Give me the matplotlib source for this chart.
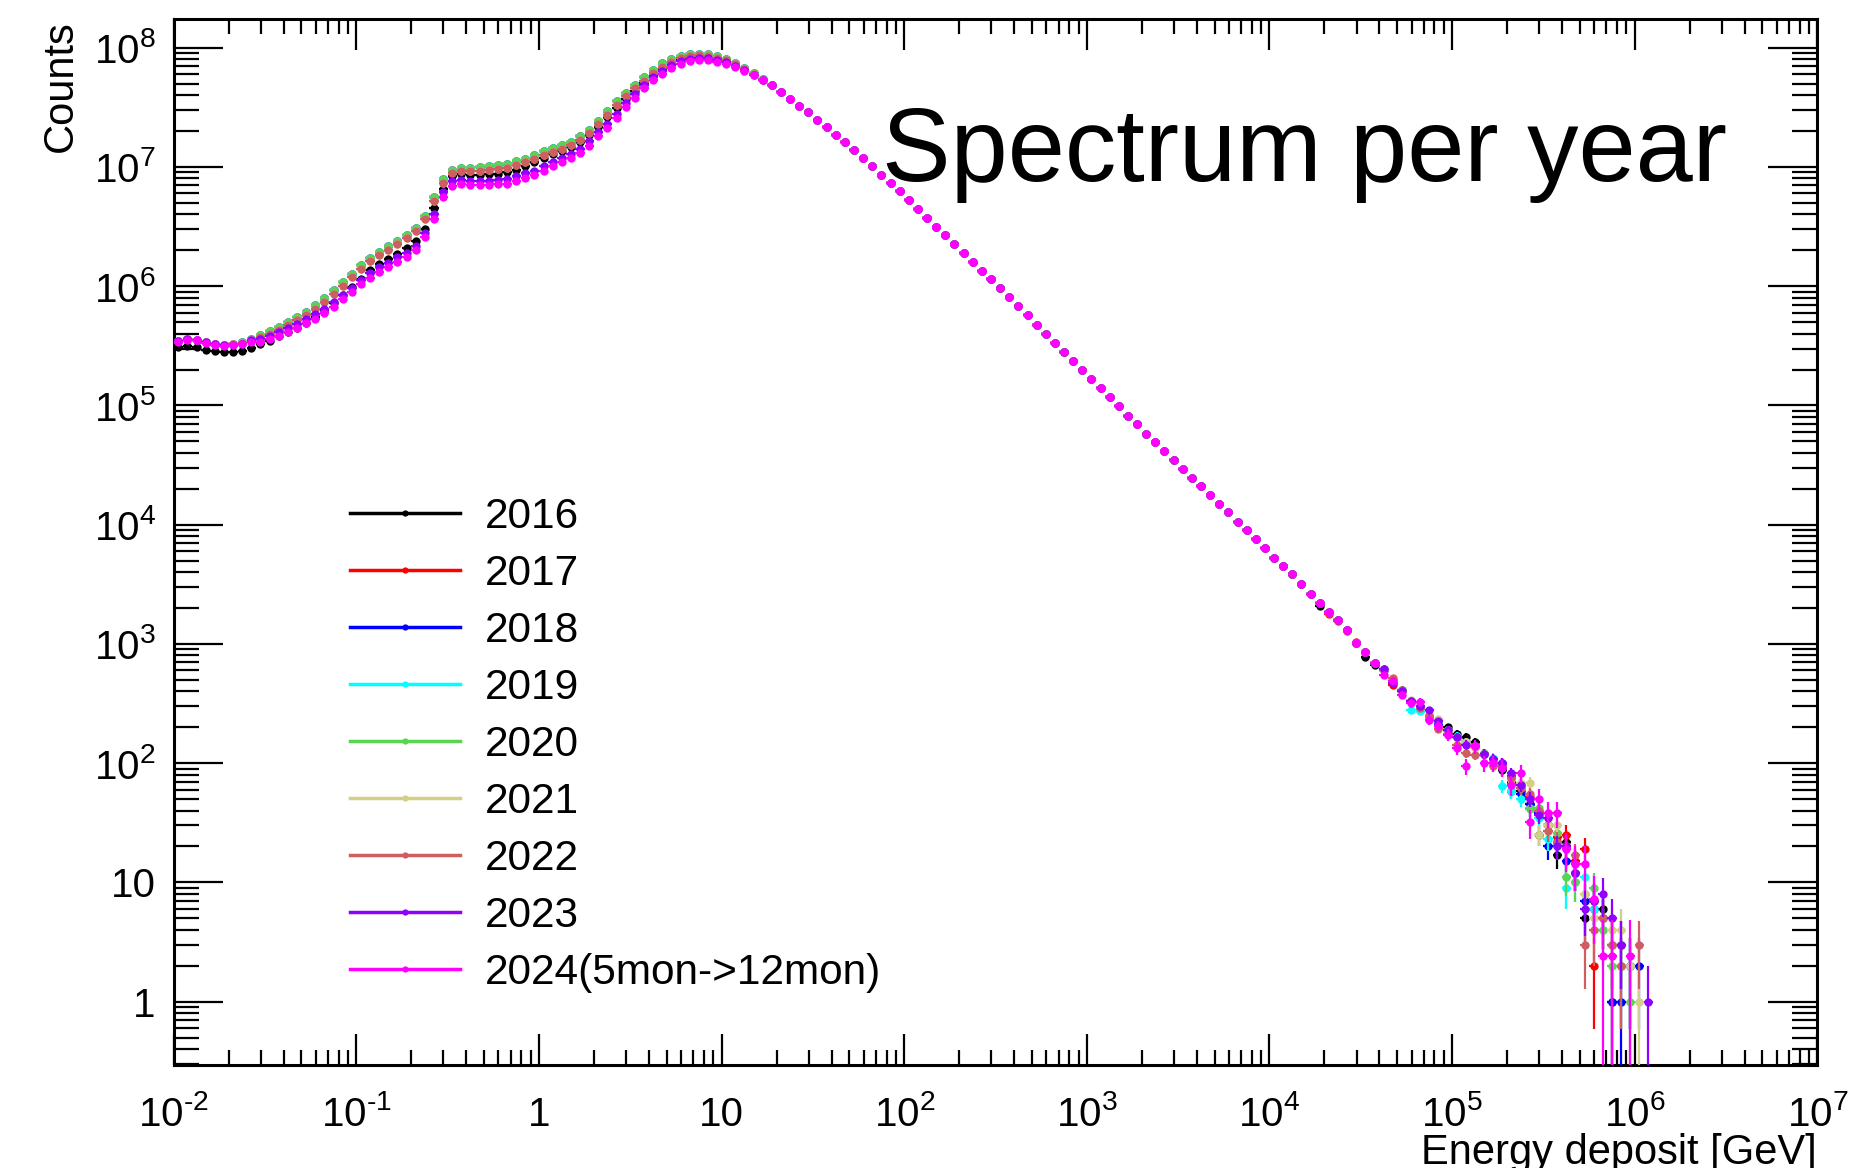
import matplotlib
matplotlib.use("Agg")
import matplotlib.pyplot as plt
import numpy as np
from matplotlib.lines import Line2D
from matplotlib.ticker import LogLocator, NullFormatter

plt.rcParams["font.family"] = ["Liberation Sans", "DejaVu Sans"]
plt.rcParams["mathtext.fontset"] = "custom"
plt.rcParams["mathtext.rm"] = "Liberation Sans"
plt.rcParams["mathtext.it"] = "Liberation Sans:italic"
plt.rcParams["mathtext.bf"] = "Liberation Sans:bold"

years = ["2016", "2017", "2018", "2019", "2020", "2021", "2022", "2023",
         "2024(5mon->12mon)"]
colors = ["#000000", "#ff0000", "#0000ff", "#00ffff", "#59d454", "#d4cf87",
          "#cf5e61", "#9000ff", "#ff00ff"]

# histogram binning: 20 bins per decade from 1e-2 GeV, 162 filled bins
bin_edges = np.logspace(-2, 7, 181)[:163]

# log10(counts), bins 0-64 (below the peak the years differ)
low_2016 = [5.486, 5.50, 5.492, 5.467, 5.456, 5.444, 5.45, 5.458, 5.481, 5.514,
            5.542, 5.578, 5.617, 5.653, 5.694, 5.744, 5.80, 5.861, 5.925, 5.992,
            6.061, 6.133, 6.189, 6.228, 6.272, 6.317, 6.383, 6.483, 6.653, 6.817,
            6.925, 6.939, 6.933, 6.933, 6.939, 6.944, 6.956, 6.978, 7.006, 7.039,
            7.072, 7.106, 7.133, 7.167, 7.208, 7.267, 7.339, 7.417, 7.494, 7.569,
            7.639, 7.70, 7.767, 7.82, 7.865, 7.897, 7.914, 7.922, 7.919, 7.905,
            7.886, 7.857, 7.818, 7.777, 7.73]
low_upper = [5.542, 5.556, 5.55, 5.528, 5.514, 5.506, 5.511, 5.533, 5.561, 5.589,
             5.625, 5.658, 5.70, 5.744, 5.783, 5.839, 5.90, 5.967, 6.033, 6.103,
             6.178, 6.239, 6.289, 6.333, 6.381, 6.431, 6.492, 6.592, 6.744, 6.897,
             6.978, 6.994, 6.994, 6.997, 7.006, 7.014, 7.025, 7.047, 7.069, 7.10,
             7.131, 7.156, 7.181, 7.211, 7.256, 7.311, 7.389, 7.469, 7.55, 7.622,
             7.689, 7.75, 7.817, 7.869, 7.906, 7.931, 7.944, 7.95, 7.944, 7.928,
             7.906, 7.872, 7.83, 7.785, 7.735]
low_2022 = [5.542, 5.556, 5.55, 5.528, 5.514, 5.506, 5.511, 5.525, 5.545, 5.57,
            5.60, 5.632, 5.672, 5.715, 5.755, 5.81, 5.87, 5.937, 6.003, 6.073,
            6.148, 6.209, 6.259, 6.303, 6.351, 6.401, 6.462, 6.562, 6.714, 6.867,
            6.948, 6.964, 6.964, 6.967, 6.976, 6.984, 6.995, 7.017, 7.039, 7.07,
            7.101, 7.126, 7.151, 7.181, 7.226, 7.281, 7.359, 7.439, 7.52, 7.592,
            7.659, 7.72, 7.787, 7.842, 7.883, 7.912, 7.928, 7.935, 7.931, 7.917,
            7.897, 7.864, 7.824, 7.781, 7.732]
low_2023 = [5.54, 5.555, 5.55, 5.528, 5.512, 5.503, 5.506, 5.518, 5.545, 5.56,
            5.585, 5.615, 5.65, 5.685, 5.725, 5.765, 5.81, 5.865, 5.93, 5.988,
            6.055, 6.11, 6.16, 6.198, 6.243, 6.282, 6.338, 6.45, 6.605, 6.787,
            6.881, 6.889, 6.884, 6.884, 6.885, 6.893, 6.898, 6.92, 6.945, 6.97,
            7.004, 7.043, 7.076, 7.112, 7.154, 7.215, 7.292, 7.364, 7.447, 7.534,
            7.612, 7.69, 7.758, 7.806, 7.852, 7.887, 7.904, 7.913, 7.911, 7.896,
            7.878, 7.85, 7.812, 7.773, 7.728]
low_2024 = [5.535, 5.55, 5.545, 5.525, 5.51, 5.50, 5.503, 5.511, 5.528, 5.533,
            5.556, 5.583, 5.617, 5.65, 5.689, 5.728, 5.772, 5.828, 5.894, 5.95,
            6.017, 6.072, 6.122, 6.161, 6.206, 6.244, 6.30, 6.411, 6.567, 6.75,
            6.844, 6.853, 6.847, 6.847, 6.847, 6.856, 6.861, 6.883, 6.908, 6.933,
            6.967, 7.006, 7.039, 7.075, 7.117, 7.178, 7.256, 7.328, 7.411, 7.50,
            7.578, 7.658, 7.728, 7.778, 7.828, 7.867, 7.886, 7.897, 7.897, 7.883,
            7.867, 7.842, 7.806, 7.769, 7.725]

# log10(counts), bins 65-124, the same for all years
mid_common = [7.686, 7.625, 7.572, 7.514, 7.461, 7.397, 7.333, 7.269, 7.208, 7.144,
              7.072, 7.006, 6.936, 6.867, 6.794, 6.722, 6.65, 6.575, 6.50, 6.425,
              6.353, 6.278, 6.203, 6.131, 6.056, 5.981, 5.908, 5.831, 5.756, 5.678,
              5.603, 5.525, 5.45, 5.372, 5.297, 5.219, 5.144, 5.07, 4.992, 4.915,
              4.842, 4.764, 4.689, 4.617, 4.542, 4.467, 4.395, 4.325, 4.25, 4.172,
              4.106, 4.022, 3.953, 3.883, 3.806, 3.722, 3.653, 3.583, 3.50, 3.422]

# counts, bins 125-161
tail_2016 = [2090, 1840, 1580, 1300, 1020, 783, 660, 610, 490, 410,
             330, 280, 250, 220, 200, 175, 165, 150, 120, 105,
             88, 70, 58, 45, 25, 30, 17, 22, 12, 5,
             7, 6, 1, 3, 2, 0, 0]
tail_2017 = [2200, 1780, 1560, 1280, 1030, 850, 690, 600, 455, 400,
             330, 290, 250, 220, 190, 165, 150, 140, 120, 105,
             95, 78, 65, 52, 40, 30, 24, 25, 15, 19,
             2, 5, 3, 2, 0, 0, 0]
tail_2018 = [2200, 1840, 1580, 1310, 1020, 850, 690, 600, 490, 400,
             330, 290, 250, 215, 190, 165, 150, 140, 120, 105,
             100, 58, 55, 45, 38, 20, 22, 15, 12, 7,
             6, 5, 1, 1, 2, 2, 0]
tail_2019 = [2200, 1840, 1580, 1310, 1020, 850, 690, 600, 490, 400,
             280, 272, 250, 220, 190, 170, 150, 140, 120, 110,
             64, 58, 50, 42, 35, 23, 20, 9, 10, 11,
             6, 4, 3, 2, 2, 0, 0]
tail_2020 = [2200, 1840, 1580, 1310, 1020, 850, 690, 600, 490, 400,
             330, 290, 250, 225, 190, 165, 150, 140, 121, 105,
             95, 75, 62, 41, 42, 30, 26, 11, 10, 8,
             9, 4, 2, 3, 1, 0, 0]
tail_2021 = [2200, 1840, 1580, 1310, 1020, 850, 690, 600, 490, 400,
             340, 290, 255, 235, 190, 165, 150, 135, 120, 105,
             92, 72, 68, 68, 25, 30, 30, 20, 12, 8,
             5, 5, 4, 4, 2, 1, 0]
tail_2022 = [2200, 1800, 1580, 1310, 1020, 850, 690, 600, 520, 410,
             330, 290, 250, 195, 175, 143, 122, 118, 120, 94,
             95, 75, 62, 55, 40, 27, 22, 20, 17, 3,
             4, 5, 3, 2, 0, 3, 0]
tail_2023 = [2200, 1840, 1580, 1310, 1020, 850, 690, 615, 470, 400,
             335, 300, 277, 225, 190, 165, 143, 140, 120, 108,
             100, 82, 65, 50, 37, 35, 20, 20, 12, 6,
             7, 8, 5, 3, 0, 0, 1]
tail_2024 = [2200, 1840, 1580, 1310, 1015, 850, 690, 550, 490, 375,
             318, 323, 231, 204, 173, 134, 94, 138, 100, 100,
             91, 66, 82, 32, 50, 38, 38, 19, 14.4, 14.4,
             7.2, 2.4, 2.4, 0, 2.4, 0, 0]

low_parts = [low_2016, low_upper, low_upper, low_upper, low_upper, low_2022,
             low_2022, low_2023, low_2024]
tail_parts = [tail_2016, tail_2017, tail_2018, tail_2019, tail_2020, tail_2021,
              tail_2022, tail_2023, tail_2024]
# 2024 was scaled from 5 to 12 months
scale_2024 = 12 / 5

fig = plt.figure(figsize=(18.65, 11.68), dpi=100)
ax = fig.add_axes([173.7 / 1865, 1 - 1064.5 / 1168,
                   (1817.4 - 173.7) / 1865, (1064.5 - 19) / 1168])

x = np.sqrt(bin_edges[:-1] * bin_edges[1:])
x_lo = x - bin_edges[:-1]
x_hi = bin_edges[1:] - x

for i, (color, low, tail) in enumerate(zip(colors, low_parts, tail_parts)):
    counts = np.concatenate([10 ** np.asarray(low), 10 ** np.asarray(mid_common),
                             np.asarray(tail, dtype=float)])
    scale = scale_2024 if i == len(years) - 1 else 1.0
    err = np.sqrt(counts * scale)
    lower = np.minimum(err, counts - 1e-3)
    keep = counts > 0
    ax.errorbar(x[keep], counts[keep],
                xerr=[x_lo[keep], x_hi[keep]],
                yerr=[lower[keep], err[keep]],
                fmt="o", ms=6, mew=0, color=color, ecolor=color,
                elinewidth=1.6, capsize=0, zorder=2 + i)

ax.set_xscale("log")
ax.set_yscale("log")
ax.set_xlim(1e-2, 1e7)
ax.set_ylim(0.297, 1.74e8)

def tick_label(n):
    if n == 0:
        return "1"
    if n == 1:
        return "10"
    # ROOT prints a short hyphen in negative exponents
    exp = str(n).replace("-", "\u2010")
    return r"$\mathdefault{10^{%s}}$" % exp

xdec = list(range(-2, 8))
ydec = list(range(0, 9))
ax.set_xticks([10.0 ** n for n in xdec], [tick_label(n) for n in xdec])
ax.set_yticks([10.0 ** n for n in ydec], [tick_label(n) for n in ydec])
ax.xaxis.set_minor_locator(LogLocator(base=10, subs=np.arange(2, 10), numticks=100))
ax.yaxis.set_minor_locator(LogLocator(base=10, subs=np.arange(2, 10), numticks=100))
ax.xaxis.set_minor_formatter(NullFormatter())
ax.yaxis.set_minor_formatter(NullFormatter())

ax.tick_params(axis="x", which="major", direction="in", length=22, width=1.6,
               top=True, bottom=True, labelsize=29, pad=44)
ax.tick_params(axis="x", which="minor", direction="in", length=11, width=1.6,
               top=True, bottom=True)
ax.tick_params(axis="y", which="major", direction="in", length=35, width=1.6,
               left=True, right=True, labelsize=29, pad=13)
ax.tick_params(axis="y", which="minor", direction="in", length=18, width=1.6,
               left=True, right=True)
for lab in ax.get_xticklabels():
    lab.set_verticalalignment("baseline")
for sp in ax.spines.values():
    sp.set_linewidth(2.2)

handles = [Line2D([0], [0], color=c, lw=2.5, marker="o", ms=4.5, mew=0)
           for c in colors]
ax.legend(handles, years, loc="upper left",
          bbox_to_anchor=(350 / 1865, 1 - 497 / 1168),
          bbox_transform=fig.transFigure, frameon=False, fontsize=30.5,
          handlelength=2.6, handletextpad=0.59, labelspacing=0.40,
          borderpad=0, borderaxespad=0)

fig.text(882 / 1865, 1 - 181 / 1168, "Spectrum per year", fontsize=74,
         ha="left", va="baseline")
fig.text(61 / 1865, 1 - 20 / 1168, "Counts", fontsize=30, rotation=90,
         ha="center", va="top")
fig.text(1817 / 1865, 4 / 1168, "Energy deposit [GeV]", fontsize=30,
         ha="right", va="baseline")

fig.savefig("out.png", dpi=100)
plt.close(fig)
